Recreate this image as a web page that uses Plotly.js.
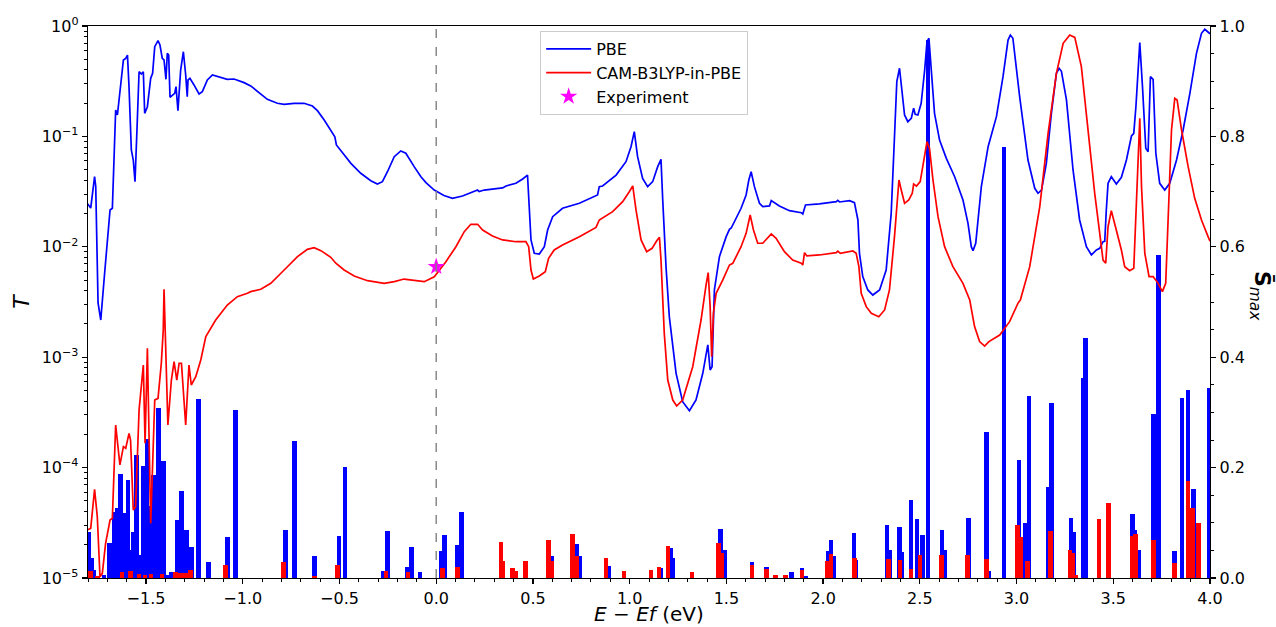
<!DOCTYPE html>
<html>
<head>
<meta charset="utf-8">
<script src="https://cdn.plot.ly/plotly-3.0.1.min.js"></script>
<style>html,body{margin:0;padding:0;background:#fff;}#chart{width:1276px;height:627px;}</style>
</head>
<body>
<div id="chart"></div>
<script>
// ---- PBE transmission: energy (eV) and log10(T) ----
const pbeE = [-1.804,-1.786,-1.766,-1.760,-1.748,-1.734,-1.714,-1.696,-1.686,-1.674,-1.657,-1.648,-1.640,-1.617,-1.605,-1.596,-1.588,-1.576,-1.566,-1.557,-1.545,-1.536,-1.524,-1.514,-1.507,-1.493,-1.476,-1.466,-1.455,-1.438,-1.428,-1.416,-1.407,-1.397,-1.390,-1.383,-1.376,-1.364,-1.352,-1.345,-1.335,-1.321,-1.307,-1.295,-1.287,-1.283,-1.273,-1.252,-1.226,-1.209,-1.183,-1.157,-1.131,-1.080,-1.045,-0.993,-0.959,-0.924,-0.873,-0.821,-0.786,-0.735,-0.683,-0.640,-0.614,-0.579,-0.536,-0.524,-0.516,-0.476,-0.441,-0.390,-0.338,-0.304,-0.278,-0.252,-0.217,-0.183,-0.157,-0.114,-0.079,-0.053,-0.010,0.040,0.084,0.136,0.188,0.214,0.222,0.248,0.343,0.361,0.412,0.447,0.472,0.490,0.507,0.533,0.559,0.576,0.602,0.653,0.740,0.809,0.834,0.843,0.860,0.930,0.981,1.007,1.024,1.041,1.067,1.093,1.119,1.145,1.162,1.171,1.188,1.205,1.240,1.274,1.309,1.343,1.378,1.404,1.416,1.426,1.438,1.464,1.499,1.516,1.525,1.576,1.602,1.616,1.628,1.645,1.671,1.688,1.723,1.732,1.774,1.826,1.887,1.895,1.909,1.981,2.068,2.076,2.085,2.137,2.162,2.180,2.188,2.205,2.231,2.257,2.292,2.326,2.352,2.369,2.381,2.395,2.404,2.421,2.438,2.456,2.468,2.476,2.490,2.507,2.525,2.537,2.547,2.559,2.576,2.602,2.637,2.680,2.723,2.749,2.766,2.775,2.789,2.818,2.853,2.896,2.930,2.956,2.968,2.981,3.016,3.059,3.094,3.111,3.129,3.154,3.180,3.206,3.220,3.232,3.258,3.292,3.326,3.361,3.387,3.413,3.430,3.447,3.456,3.464,3.473,3.490,3.516,3.542,3.568,3.594,3.606,3.617,3.629,3.637,3.651,3.668,3.680,3.692,3.706,3.720,3.740,3.766,3.792,3.827,3.861,3.896,3.930,3.956,3.973,3.990,4.000];
const pbeLogT = [-1.606,-1.649,-1.365,-1.455,-2.509,-2.663,-2.237,-1.818,-1.667,-1.651,-0.761,-0.806,-0.670,-0.308,-0.293,-0.263,-0.549,-1.123,-1.214,-1.410,-0.851,-0.414,-0.435,-0.414,-0.791,-0.731,-0.474,-0.429,-0.187,-0.133,-0.172,-0.293,-0.308,-0.483,-0.248,-0.263,-0.646,-0.625,-0.610,-0.549,-0.767,-0.399,-0.233,-0.444,-0.640,-0.489,-0.474,-0.534,-0.616,-0.595,-0.489,-0.444,-0.459,-0.483,-0.480,-0.513,-0.543,-0.595,-0.664,-0.700,-0.709,-0.700,-0.700,-0.725,-0.767,-0.851,-0.972,-1.003,-1.078,-1.168,-1.244,-1.334,-1.401,-1.431,-1.410,-1.320,-1.184,-1.132,-1.153,-1.274,-1.365,-1.419,-1.486,-1.535,-1.561,-1.540,-1.507,-1.486,-1.500,-1.486,-1.467,-1.449,-1.425,-1.386,-1.350,-1.938,-2.059,-2.065,-1.999,-1.848,-1.727,-1.651,-1.606,-1.546,-1.531,-1.455,-1.449,-1.350,-1.229,-1.093,-0.957,-1.184,-1.380,-1.455,-1.410,-1.274,-1.208,-1.576,-2.180,-2.633,-3.146,-3.403,-3.485,-3.388,-3.146,-2.889,-3.116,-3.086,-2.391,-2.089,-1.908,-1.842,-1.830,-1.651,-1.531,-1.395,-1.320,-1.455,-1.606,-1.636,-1.630,-1.582,-1.630,-1.673,-1.691,-1.703,-1.621,-1.612,-1.591,-1.580,-1.594,-1.582,-1.600,-1.757,-2.059,-2.270,-2.391,-2.437,-2.391,-2.210,-1.697,-1.003,-0.504,-0.383,-0.549,-0.806,-0.867,-0.836,-0.745,-0.800,-0.806,-0.700,-0.399,-0.142,-0.111,-0.368,-0.791,-1.033,-1.199,-1.365,-1.576,-1.787,-1.999,-2.035,-1.968,-1.455,-1.093,-0.821,-0.459,-0.127,-0.082,-0.111,-0.640,-1.214,-1.470,-1.515,-1.486,-1.244,-0.791,-0.429,-0.383,-0.410,-0.670,-1.304,-1.757,-1.999,-2.074,-2.029,-2.014,-1.954,-1.950,-1.667,-1.425,-1.365,-1.431,-1.371,-1.214,-0.996,-0.972,-0.731,-0.338,-0.151,-0.549,-1.108,-1.138,-0.459,-0.483,-1.153,-1.425,-1.486,-1.425,-1.214,-0.942,-0.610,-0.248,-0.066,-0.030,-0.051,-0.070];

// ---- CAM-B3LYP-in-PBE transmission: energy (eV) and log10(T) ----
const camE = [-1.804,-1.786,-1.766,-1.752,-1.738,-1.726,-1.709,-1.686,-1.674,-1.657,-1.635,-1.617,-1.605,-1.588,-1.580,-1.566,-1.554,-1.536,-1.514,-1.505,-1.493,-1.476,-1.455,-1.438,-1.421,-1.411,-1.407,-1.387,-1.369,-1.355,-1.341,-1.329,-1.317,-1.295,-1.278,-1.266,-1.243,-1.217,-1.191,-1.140,-1.080,-1.028,-0.976,-0.959,-0.907,-0.855,-0.786,-0.717,-0.666,-0.631,-0.596,-0.545,-0.519,-0.476,-0.424,-0.355,-0.269,-0.217,-0.166,-0.114,-0.062,-0.010,0.050,0.102,0.145,0.179,0.214,0.240,0.291,0.343,0.412,0.464,0.478,0.490,0.502,0.533,0.564,0.581,0.610,0.653,0.740,0.826,0.843,0.912,0.964,0.998,1.016,1.033,1.059,1.088,1.116,1.140,1.154,1.162,1.179,1.197,1.223,1.243,1.274,1.326,1.369,1.395,1.406,1.416,1.424,1.433,1.447,1.481,1.516,1.533,1.576,1.602,1.623,1.640,1.662,1.688,1.732,1.757,1.800,1.843,1.887,1.895,1.904,1.916,1.981,2.068,2.076,2.089,2.154,2.171,2.185,2.197,2.223,2.249,2.288,2.318,2.343,2.369,2.392,2.404,2.421,2.443,2.461,2.468,2.483,2.502,2.519,2.537,2.550,2.568,2.594,2.628,2.671,2.723,2.758,2.783,2.809,2.835,2.857,2.913,2.964,3.007,3.020,3.068,3.120,3.163,3.206,3.241,3.275,3.301,3.335,3.370,3.404,3.430,3.447,3.461,3.473,3.490,3.507,3.524,3.542,3.559,3.585,3.606,3.617,3.629,3.637,3.646,3.663,3.685,3.706,3.732,3.754,3.771,3.783,3.801,3.818,3.830,3.853,3.887,3.921,3.956,3.990,4.000];
const camLogT = [-4.565,-4.550,-4.197,-4.444,-4.988,-4.958,-4.686,-4.475,-4.459,-3.614,-3.976,-3.810,-3.825,-3.690,-3.750,-4.384,-4.354,-3.478,-3.071,-3.780,-2.920,-4.505,-3.388,-3.373,-3.055,-2.754,-2.385,-3.614,-3.207,-3.040,-3.207,-3.055,-3.055,-3.614,-3.071,-3.252,-3.177,-3.025,-2.814,-2.663,-2.527,-2.452,-2.421,-2.406,-2.385,-2.331,-2.210,-2.089,-2.023,-2.008,-2.035,-2.095,-2.149,-2.210,-2.264,-2.307,-2.331,-2.316,-2.292,-2.301,-2.316,-2.271,-2.135,-1.999,-1.863,-1.796,-1.796,-1.848,-1.902,-1.938,-1.954,-1.954,-1.999,-2.210,-2.292,-2.264,-2.225,-2.104,-2.029,-1.984,-1.908,-1.824,-1.757,-1.682,-1.591,-1.501,-1.449,-1.667,-1.938,-2.044,-2.014,-1.945,-1.914,-2.120,-2.784,-3.207,-3.388,-3.442,-3.388,-3.086,-2.663,-2.346,-2.234,-2.542,-2.995,-2.602,-2.421,-2.301,-2.165,-2.150,-1.999,-1.878,-1.712,-1.848,-1.968,-1.968,-1.884,-1.923,-2.044,-2.120,-2.149,-2.165,-2.053,-2.083,-2.074,-2.053,-2.040,-2.060,-2.038,-2.059,-2.180,-2.421,-2.542,-2.602,-2.633,-2.572,-2.391,-1.908,-1.395,-1.486,-1.606,-1.576,-1.515,-1.431,-1.450,-1.410,-1.214,-1.048,-1.108,-1.395,-1.727,-1.999,-2.180,-2.331,-2.482,-2.723,-2.859,-2.899,-2.859,-2.799,-2.678,-2.512,-2.480,-2.180,-1.636,-0.972,-0.429,-0.157,-0.082,-0.103,-0.368,-0.972,-1.515,-1.878,-2.120,-2.149,-1.818,-1.673,-1.787,-1.923,-2.029,-2.180,-2.216,-2.195,-1.757,-1.214,-0.836,-1.455,-2.059,-2.270,-2.270,-2.331,-2.406,-2.331,-1.818,-0.942,-0.655,-0.670,-0.942,-1.274,-1.561,-1.757,-1.908,-1.950];

// ---- Experiment ----
const expE = [0.0];
const expT = [0.0066];

// ---- S_max bars (right axis) ----
const pbeBarE = [-1.795,-1.782,-1.769,-1.718,-1.689,-1.662,-1.650,-1.631,-1.616,-1.593,-1.578,-1.568,-1.549,-1.534,-1.514,-1.495,-1.485,-1.463,-1.435,-1.409,-1.386,-1.371,-1.340,-1.316,-1.291,-1.265,-1.230,-1.178,-1.078,-1.038,-0.780,-0.733,-0.630,-0.503,-0.472,-0.273,-0.252,-0.150,-0.129,-0.084,0.024,0.042,0.109,0.132,0.341,0.404,0.595,0.726,0.740,0.890,1.159,1.211,1.223,1.322,1.468,1.490,1.632,1.707,1.837,1.891,1.911,2.028,2.041,2.054,2.160,2.170,2.331,2.346,2.394,2.406,2.454,2.486,2.514,2.542,2.615,2.628,2.750,2.843,2.856,2.936,3.012,3.047,3.065,3.163,3.179,3.282,3.295,3.345,3.355,3.598,3.611,3.629,3.707,3.733,3.818,3.856,3.886,3.914,3.927,3.994];
const pbeBarS = [0.084,0.036,0.015,0.006,0.064,0.120,0.126,0.188,0.118,0.178,0.050,0.084,0.223,0.042,0.203,0.252,0.130,0.187,0.308,0.212,0.005,0.010,0.105,0.158,0.087,0.056,0.324,0.029,0.074,0.304,0.087,0.248,0.040,0.076,0.201,0.013,0.085,0.020,0.056,0.010,0.049,0.078,0.060,0.120,0.010,0.008,0.039,0.062,0.039,0.022,0.019,0.055,0.037,0.008,0.089,0.051,0.029,0.020,0.011,0.018,0.003,0.049,0.069,0.039,0.081,0.032,0.096,0.051,0.092,0.047,0.141,0.107,0.078,0.975,0.087,0.050,0.109,0.264,0.012,0.781,0.214,0.100,0.330,0.165,0.317,0.109,0.083,0.362,0.435,0.116,0.087,0.050,0.297,0.585,0.049,0.326,0.340,0.161,0.063,0.344];
const camBarE = [-1.786,-1.752,-1.624,-1.579,-1.536,-1.505,-1.474,-1.417,-1.347,-1.323,-1.295,-1.269,-1.090,-0.791,-0.630,-0.511,-0.260,-0.145,0.031,0.109,0.334,0.344,0.396,0.409,0.463,0.582,0.595,0.706,0.726,0.877,0.970,1.110,1.151,1.198,1.322,1.458,1.474,1.632,1.707,1.754,1.806,1.891,2.024,2.041,2.162,2.338,2.397,2.454,2.501,2.613,2.747,2.845,3.006,3.021,3.057,3.174,3.277,3.290,3.306,3.427,3.474,3.598,3.616,3.707,3.818,3.886,3.911,3.942];
const camBarS = [0.012,0.003,0.010,0.012,0.008,0.005,0.007,0.007,0.011,0.009,0.009,0.015,0.024,0.029,0.004,0.023,0.012,0.010,0.018,0.020,0.065,0.030,0.018,0.013,0.031,0.069,0.030,0.080,0.040,0.036,0.013,0.014,0.020,0.058,0.011,0.063,0.046,0.024,0.016,0.005,0.006,0.014,0.031,0.043,0.037,0.034,0.033,0.016,0.042,0.042,0.041,0.034,0.096,0.075,0.031,0.085,0.051,0.046,0.005,0.107,0.136,0.076,0.080,0.069,0.027,0.176,0.127,0.100];

// axis tick labels
const logTickVals = [1e-5, 1e-4, 1e-3, 1e-2, 1e-1, 1];
const logTickText = ['10<sup>−5</sup>','10<sup>−4</sup>','10<sup>−3</sup>','10<sup>−2</sup>','10<sup>−1</sup>','10<sup>0</sup>'];

const minorLog = [];
for (let p = -5; p < 0; p++) for (let m = 2; m <= 9; m++) minorLog.push(m * Math.pow(10, p));

const FONT = 'DejaVu Sans, sans-serif';
const BW = 0.024;

const traces = [
  {type:'bar', x:pbeBarE, y:pbeBarS, width:BW, marker:{color:'#0000ff', line:{width:0}}, xaxis:'x', yaxis:'y', showlegend:false, hoverinfo:'x+y'},
  {type:'bar', x:camBarE, y:camBarS, width:BW, marker:{color:'#ff0000', line:{width:0}}, xaxis:'x', yaxis:'y', showlegend:false, hoverinfo:'x+y'},
  {type:'scatter', mode:'lines', name:'PBE', x:pbeE, y:pbeLogT.map(v => Math.pow(10, v)), line:{color:'#0000ff', width:1.7}, xaxis:'x', yaxis:'y2'},
  {type:'scatter', mode:'lines', name:'CAM-B3LYP-in-PBE', x:camE, y:camLogT.map(v => Math.pow(10, v)), line:{color:'#ff0000', width:1.7}, xaxis:'x', yaxis:'y2'},
  {type:'scatter', mode:'markers', name:'Experiment', x:expE, y:expT, marker:{symbol:'star', color:'#ff00ff', size:13, line:{width:0}}, xaxis:'x', yaxis:'y2'}
];

const axisCommon = {showgrid:false, zeroline:false, showline:true, linecolor:'black', linewidth:1.3, ticks:'outside', ticklen:5, tickwidth:1.2, tickcolor:'black', tickfont:{family:FONT, size:16, color:'black'}};

const layout = {
  width:1276, height:627,
  margin:{l:88, r:66, t:26, b:49},
  paper_bgcolor:'white', plot_bgcolor:'white',
  font:{family:FONT, color:'black'},
  barmode:'overlay', bargap:0,
  showlegend:true,
  legend:{x:0.403, y:0.991, xanchor:'left', yanchor:'top', bgcolor:'rgba(255,255,255,0.85)', bordercolor:'#cccccc', borderwidth:1, itemwidth:45, font:{family:FONT, size:16, color:'black'}, tracegroupgap:0},
  xaxis: Object.assign({}, axisCommon, {
    range:[-1.8, 4.0], tick0:0, dtick:0.5, tickformat:'.1f', mirror:true,
    minor:{dtick:0.1, ticks:'outside', ticklen:3, tickwidth:1, tickcolor:'black', showgrid:false}
  }),
  yaxis: Object.assign({}, axisCommon, {
    side:'right', range:[0, 1.0], tick0:0, dtick:0.2, tickformat:'.1f',
    minor:{dtick:0.05, ticks:'outside', ticklen:3, tickwidth:1, tickcolor:'black', showgrid:false}
  }),
  yaxis2: Object.assign({}, axisCommon, {
    type:'log', overlaying:'y', side:'left', range:[-5, 0],
    tickmode:'array', tickvals:logTickVals, ticktext:logTickText,
    minor:{tickmode:'array', tickvals:minorLog, ticks:'outside', ticklen:3, tickwidth:1, tickcolor:'black', showgrid:false},
    title:{text:'<i>T</i>', font:{family:FONT, size:22, color:'black'}, standoff:6}
  }),
  shapes:[{type:'line', xref:'x', yref:'paper', x0:0, x1:0, y0:0, y1:1, line:{color:'#808080', width:1.4, dash:'dash'}, layer:'above'}],
  annotations:[
    {xref:'paper', yref:'paper', x:0.5, y:-0.0652, xanchor:'center', yanchor:'middle', showarrow:false, borderpad:0,
     text:'<i>E</i> − <i>Ef</i> (eV)', font:{family:FONT, size:20, color:'black'}},
    {xref:'paper', yref:'paper', x:1.045, y:0.51, xanchor:'center', yanchor:'middle', showarrow:false, textangle:90,
     text:'<b>S̄</b><sub><i>max</i></sub>', font:{family:FONT, size:22, color:'black'}}
  ]
};

Plotly.newPlot('chart', traces, layout, {displayModeBar:false, staticPlot:true});
</script>
</body>
</html>
